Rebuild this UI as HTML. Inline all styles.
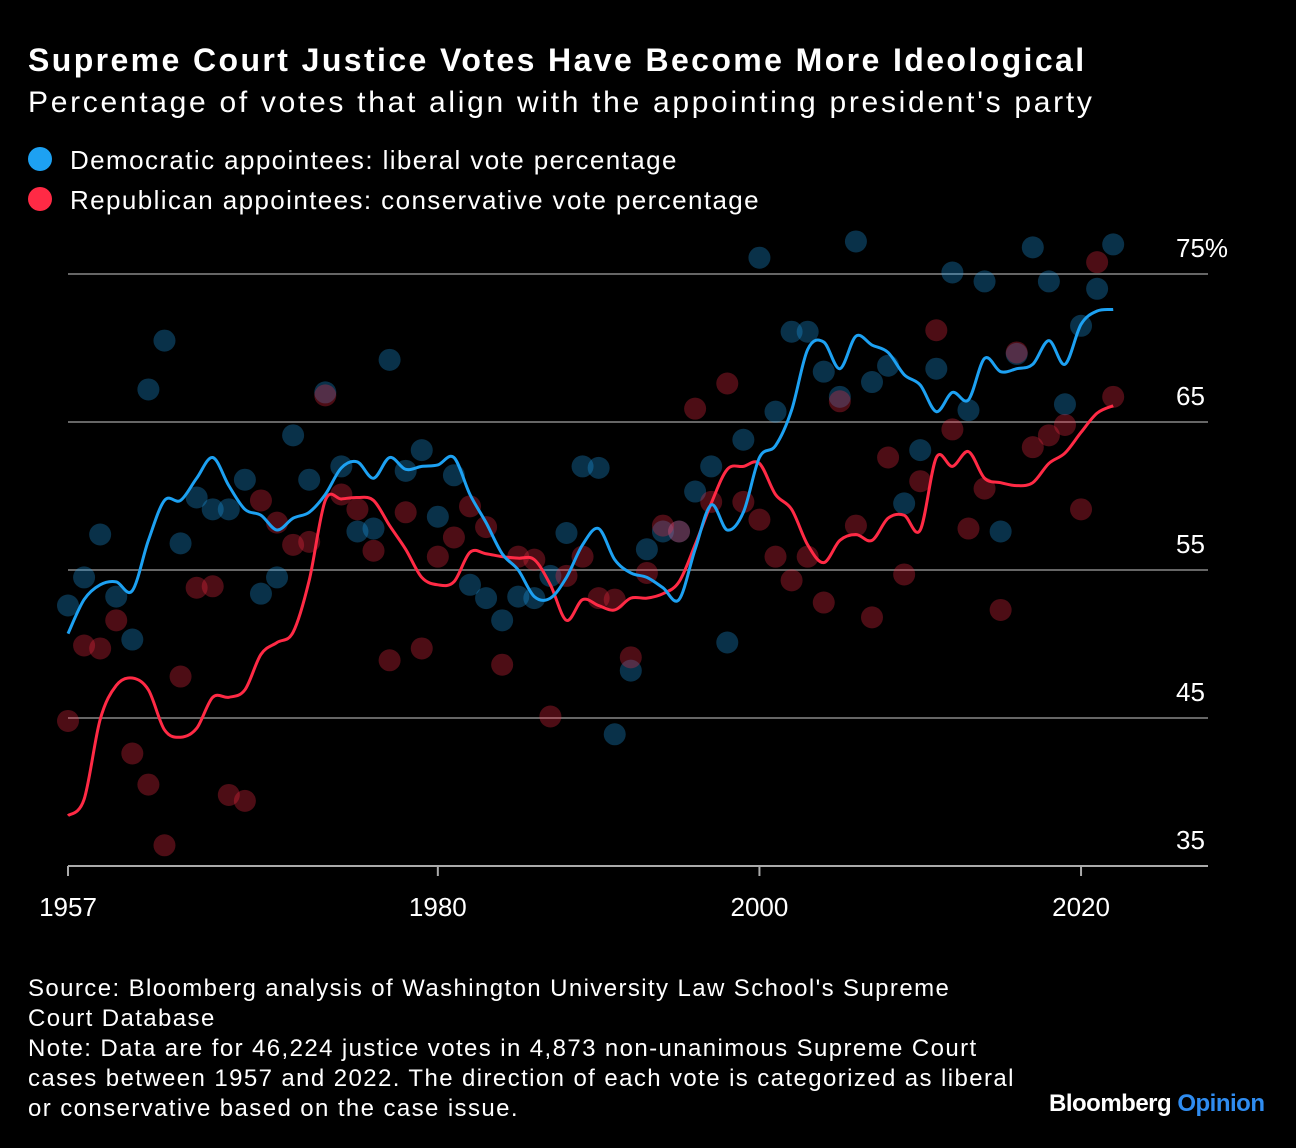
<!DOCTYPE html>
<html><head><meta charset="utf-8">
<style>
body{margin:0;background:#000;width:1296px;height:1148px;overflow:hidden;font-family:"Liberation Sans",sans-serif;color:#fff}
.t{position:absolute;white-space:nowrap}
</style></head><body>
<div class="t" style="left:28px;top:42px;font-size:32px;font-weight:bold;letter-spacing:2.4px">Supreme Court Justice Votes Have Become More Ideological</div>
<div class="t" style="left:28px;top:86px;font-size:30px;letter-spacing:2.7px">Percentage of votes that align with the appointing president's party</div>
<div class="t" style="left:28px;top:145px;font-size:26px;letter-spacing:1.4px"><span style="display:inline-block;width:24px;height:24px;border-radius:50%;background:#1da1f2;vertical-align:-2px;margin-right:18px"></span>Democratic appointees: liberal vote percentage</div>
<div class="t" style="left:28px;top:185px;font-size:26px;letter-spacing:1.4px"><span style="display:inline-block;width:24px;height:24px;border-radius:50%;background:#ff2a45;vertical-align:-2px;margin-right:18px"></span>Republican appointees: conservative vote percentage</div>
<svg id="chart" width="1296" height="960" style="position:absolute;left:0;top:0"></svg>
<div class="t" style="left:28px;top:974px;font-size:24px;line-height:30px;letter-spacing:1.4px">Source: Bloomberg analysis of Washington University Law School's Supreme<br>Court Database<br>Note: Data are for 46,224 justice votes in 4,873 non-unanimous Supreme Court<br>cases between 1957 and 2022. The direction of each vote is categorized as liberal<br>or conservative based on the case issue.</div>
<div class="t" style="left:1049px;top:1090px;font-size:24px;font-weight:bold;letter-spacing:-0.5px">Bloomberg <span style="color:#2f8cf0">Opinion</span></div>
<script>
const years=[];for(let y=1957;y<=2022;y++)years.push(y);
const blueDots=[52.6,54.5,57.4,53.2,50.3,67.2,70.5,56.8,59.9,59.1,59.1,61.1,53.4,54.5,64.1,61.1,67.0,62.0,57.6,57.8,69.2,61.7,63.1,58.6,61.4,54.0,53.1,51.6,53.2,53.1,54.6,57.5,62.0,61.9,43.9,48.2,56.4,57.6,57.6,60.3,62.0,50.1,63.8,76.1,65.7,71.1,71.1,68.4,66.7,77.2,67.7,68.8,59.5,63.1,68.6,75.1,65.8,74.5,57.6,69.6,76.8,74.5,66.2,71.5,74.0,77.0];
const redDots=[44.8,49.9,49.7,51.6,42.6,40.5,36.4,47.8,53.8,53.9,39.8,39.4,59.7,58.2,56.7,56.9,66.8,60.1,59.1,56.3,48.9,58.9,49.7,55.9,57.2,59.3,57.9,48.6,55.9,55.7,45.1,54.6,55.9,53.1,53.0,49.1,54.8,58.0,57.6,65.9,59.6,67.6,59.6,58.4,55.9,54.3,55.9,52.8,66.4,58.0,51.8,62.6,54.7,61.0,71.2,64.5,57.8,60.5,52.3,69.7,63.3,64.1,64.8,59.1,75.8,66.7];
const blueLine=[50.7,53.0,54.0,54.2,53.6,57.0,59.7,59.7,61.2,62.6,60.7,59.1,58.7,57.7,58.5,58.9,60.1,61.9,62.3,61.2,62.6,61.8,62.0,62.1,62.6,60.1,58.2,56.1,55.0,53.2,53.1,54.5,56.7,57.8,55.7,54.8,54.5,53.8,53.0,56.4,59.4,57.7,58.9,62.6,63.4,65.8,69.9,70.4,68.6,70.8,70.2,69.7,68.2,67.5,65.7,67.0,66.5,69.3,68.4,68.6,68.9,70.5,68.9,71.6,72.5,72.6];
const redLine=[38.4,39.5,44.9,47.2,47.7,46.9,44.2,43.7,44.3,46.4,46.4,46.9,49.3,50.1,50.8,54.3,59.7,59.8,59.9,59.7,58.0,56.4,54.5,54.0,54.2,56.2,56.1,55.9,55.8,55.7,54.0,51.6,53.0,52.6,52.3,53.1,53.1,53.4,54.2,56.7,59.5,61.8,62.0,62.2,60.1,59.1,56.7,55.5,57.0,57.4,57.0,58.5,58.7,57.7,62.6,62.0,63.0,61.2,60.9,60.7,60.9,62.2,62.9,64.3,65.6,66.1];
const yTicks=[35,45,55,65,75];
const yTickLabels=["35","45","55","65","75%"];
const xTicks=[1957,1980,2000,2020];

const X=y=>68+(y-1957)*16.08;
const Y=v=>274+(75-v)*14.8;
const svg=document.getElementById('chart');
const NS='http://www.w3.org/2000/svg';
function mk(tag,attrs){const e=document.createElementNS(NS,tag);for(const k in attrs)e.setAttribute(k,attrs[k]);svg.appendChild(e);return e;}
yTicks.forEach((v,i)=>{
  const l=mk('line',{x1:68,x2:1208,y1:Y(v),y2:Y(v),stroke:i==0?'#aaa':'#666','stroke-width':2});
  
  
  const t=mk('text',{x:1176,y:Y(v)-17,fill:'#fff','font-size':26,'font-family':'Liberation Sans, sans-serif'});
  t.textContent=yTickLabels[i];
  
  
});
xTicks.forEach(yr=>{
  const l=mk('line',{x1:X(yr),x2:X(yr),y1:Y(35),y2:Y(35)+10,stroke:'#aaa','stroke-width':2});
  
  
  const t=mk('text',{x:X(yr),y:916,fill:'#fff','font-size':26,'text-anchor':'middle','font-family':'Liberation Sans, sans-serif'});
  t.textContent=yr;
  
  
});
function dots(arr,color,name){arr.forEach((v,i)=>{
  const c=mk('circle',{cx:X(years[i]),cy:Y(v),r:11,fill:color,'fill-opacity':0.3});
  
  
});}
dots(blueDots,'#1da1f2','blue-dot');
dots(redDots,'#ff2a45','red-dot');
function line(arr,color,name){
  const p=arr.map((v,i)=>[X(years[i]),Y(v)]);
  let d='M'+p[0][0]+','+p[0][1];
  for(let i=0;i<p.length-1;i++){
    const p0=p[Math.max(i-1,0)],p1=p[i],p2=p[i+1],p3=p[Math.min(i+2,p.length-1)];
    d+=' C'+(p1[0]+(p2[0]-p0[0])/6)+','+(p1[1]+(p2[1]-p0[1])/6)+' '+(p2[0]-(p3[0]-p1[0])/6)+','+(p2[1]-(p3[1]-p1[1])/6)+' '+p2[0]+','+p2[1];
  }
  const e=mk('path',{d:d,fill:'none',stroke:color,'stroke-width':3,'stroke-linejoin':'round'});
  
  
}
line(redLine,'#ff2a45','republican-trend-line');
line(blueLine,'#1da1f2','democratic-trend-line');
</script>
</body></html>
